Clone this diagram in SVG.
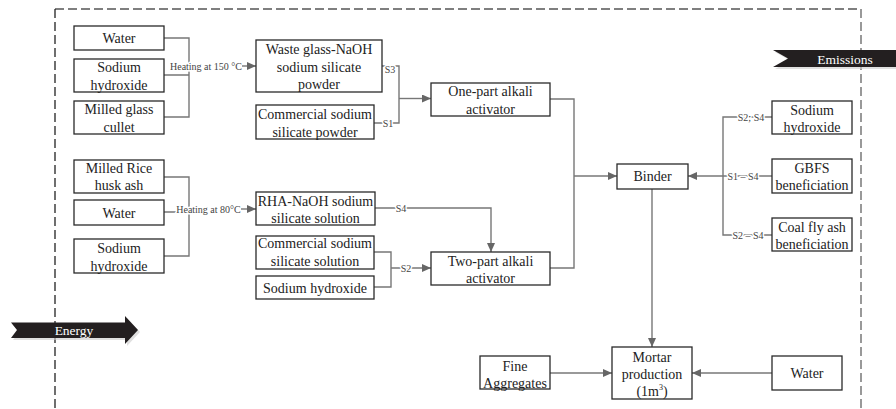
<svg xmlns="http://www.w3.org/2000/svg" width="896" height="409" viewBox="0 0 896 409">
<defs>
<marker id="ah" markerUnits="userSpaceOnUse" markerWidth="9" markerHeight="8" refX="9" refY="4" orient="auto">
<path d="M0,0 L9,4 L0,8 z" fill="#666"/>
</marker>
<style>
.box{fill:#fff;stroke:#2a2a2a;stroke-width:1.3}
.t{font-family:"Liberation Serif","Times New Roman",serif;font-size:14px;fill:#222;text-anchor:middle}
.s{font-family:"Liberation Serif","Times New Roman",serif;font-size:10px;fill:#444;text-anchor:middle;paint-order:stroke;stroke:#fff;stroke-width:3px;stroke-linejoin:round}
.c{fill:none;stroke:#777;stroke-width:1.4}
.a{marker-end:url(#ah)}
.ban{fill:#231f20}
.bt{font-family:"Liberation Serif","Times New Roman",serif;font-size:13.5px;fill:#fff;text-anchor:middle}
</style>
</defs>
<rect width="896" height="409" fill="#fff"/>
<g id="border">
<path d="M55,9 H861" stroke="#555" stroke-width="1.3" stroke-dasharray="9,4" fill="none"/>
<path d="M55,9 V409" stroke="#222" stroke-width="1.3" stroke-dasharray="9,4" fill="none"/>
<path d="M861,9 V409" stroke="#999" stroke-width="2" stroke-dasharray="9,4" fill="none"/>
</g>
<g id="emissions">
<polygon points="775,52 896,52 896,69 775,69 790,60.5" fill="#ccc" opacity="0.6"/>
<polygon class="ban" points="773,50 896,50 896,67 773,67 788,58.5"/>
<text class="bt" x="845" y="63.5">Emissions</text>
</g>
<g id="energy">
<polygon points="13,324.5 127,324.5 127,318 140,332 127,346 127,340 13,340 19,332" fill="#ccc" opacity="0.6"/>
<polygon class="ban" points="11,322.5 125,322.5 125,316 138,330 125,344 125,338 11,338 17,330"/>
<text class="bt" x="74" y="335">Energy</text>
</g>
<g id="connectors">
<path class="c" d="M164,38 H189 V117 H164 M164,75 H189"/>
<text class="s" x="206" y="69.5">Heating at 150 °C</text>
<path class="c a" d="M242,66 H256"/>
<path class="c" d="M382,66 H399 V123 H374"/>
<text class="s" x="390" y="72.5">S3</text>
<text class="s" x="388" y="127">S1</text>
<path class="c a" d="M399,98.5 H431"/>
<path class="c" d="M550,99 H574 V268 H550"/>
<path class="c a" d="M574,176 H617"/>
<path class="c" d="M164,177 H189 V256 H164 M164,212 H178"/>
<text class="s" x="208.5" y="212.5">Heating at 80°C</text>
<path class="c a" d="M241,209 H256"/>
<path class="c a" d="M375,208 H491 V252"/>
<text class="s" x="401" y="211.5">S4</text>
<path class="c" d="M374,252 H391 V287 H374"/>
<path class="c a" d="M391,268 H431"/>
<text class="s" x="406" y="271.5">S2</text>
<path class="c" d="M772,117 H723 V235 H772"/>
<path class="c a" d="M772,176 H688"/>
<text class="s" x="751" y="120.5">S2; S4</text>
<text class="s" x="743" y="179.5">S1 – S4</text>
<text class="s" x="748" y="238.5">S2 – S4</text>
<path class="c a" d="M652,189 V347"/>
<path class="c a" d="M550,373 H612"/>
<path class="c a" d="M772,373 H692"/>
</g>
<g id="water1"><rect class="box" x="74" y="26" width="90" height="24"/><text class="t" x="119" y="43">Water</text></g>
<g id="naoh1"><rect class="box" x="74" y="59" width="90" height="33"/><text class="t" x="119" y="72">Sodium</text><text class="t" x="119" y="90">hydroxide</text></g>
<g id="glass"><rect class="box" x="74" y="101" width="90" height="33"/><text class="t" x="119" y="114">Milled glass</text><text class="t" x="119" y="132">cullet</text></g>
<g id="wgnaoh"><rect class="box" x="256" y="40" width="126" height="52"/><text class="t" x="319" y="54">Waste glass-NaOH</text><text class="t" x="319" y="72">sodium silicate</text><text class="t" x="319" y="89">powder</text></g>
<g id="cssp"><rect class="box" x="256" y="105" width="118" height="34"/><text class="t" x="315" y="119">Commercial sodium</text><text class="t" x="315" y="137">silicate powder</text></g>
<g id="onepart"><rect class="box" x="431" y="83" width="119" height="33"/><text class="t" x="490.5" y="96">One-part alkali</text><text class="t" x="490.5" y="114">activator</text></g>
<g id="rha"><rect class="box" x="74" y="160" width="90" height="33"/><text class="t" x="119" y="173">Milled Rice</text><text class="t" x="119" y="190">husk ash</text></g>
<g id="water2"><rect class="box" x="74" y="200" width="90" height="25"/><text class="t" x="119" y="218">Water</text></g>
<g id="naoh2"><rect class="box" x="74" y="239" width="90" height="34"/><text class="t" x="119" y="253">Sodium</text><text class="t" x="119" y="271">hydroxide</text></g>
<g id="rhanaoh"><rect class="box" x="256" y="192" width="119" height="33"/><text class="t" x="315.5" y="206">RHA-NaOH sodium</text><text class="t" x="315.5" y="223">silicate solution</text></g>
<g id="csss"><rect class="box" x="256" y="236" width="118" height="33"/><text class="t" x="315" y="248">Commercial sodium</text><text class="t" x="315" y="266">silicate solution</text></g>
<g id="naoh3"><rect class="box" x="256" y="276" width="118" height="23"/><text class="t" x="315" y="293">Sodium hydroxide</text></g>
<g id="twopart"><rect class="box" x="431" y="252" width="119" height="33"/><text class="t" x="490.5" y="266">Two-part alkali</text><text class="t" x="490.5" y="283">activator</text></g>
<g id="binder"><rect class="box" x="617" y="164" width="71" height="25"/><text class="t" x="652.5" y="181">Binder</text></g>
<g id="naoh4"><rect class="box" x="772" y="101" width="80" height="33"/><text class="t" x="812" y="115">Sodium</text><text class="t" x="812" y="132">hydroxide</text></g>
<g id="gbfs"><rect class="box" x="772" y="159" width="80" height="34"/><text class="t" x="812" y="173">GBFS</text><text class="t" x="812" y="190">beneficiation</text></g>
<g id="cfa"><rect class="box" x="772" y="218" width="80" height="33"/><text class="t" x="812" y="232">Coal fly ash</text><text class="t" x="812" y="249">beneficiation</text></g>
<g id="mortar"><rect class="box" x="612" y="347" width="80" height="52"/><text class="t" x="652" y="362">Mortar</text><text class="t" x="652" y="379">production</text><text class="t" x="652" y="396">(1m<tspan font-size="8" dy="-6">3</tspan><tspan dy="6">)</tspan></text></g>
<g id="fine"><rect class="box" x="480" y="356" width="70" height="33"/><text class="t" x="515" y="371">Fine</text><text class="t" x="515" y="388">Aggregates</text></g>
<g id="water3"><rect class="box" x="772" y="356" width="70" height="34"/><text class="t" x="807" y="378">Water</text></g>
</svg>
